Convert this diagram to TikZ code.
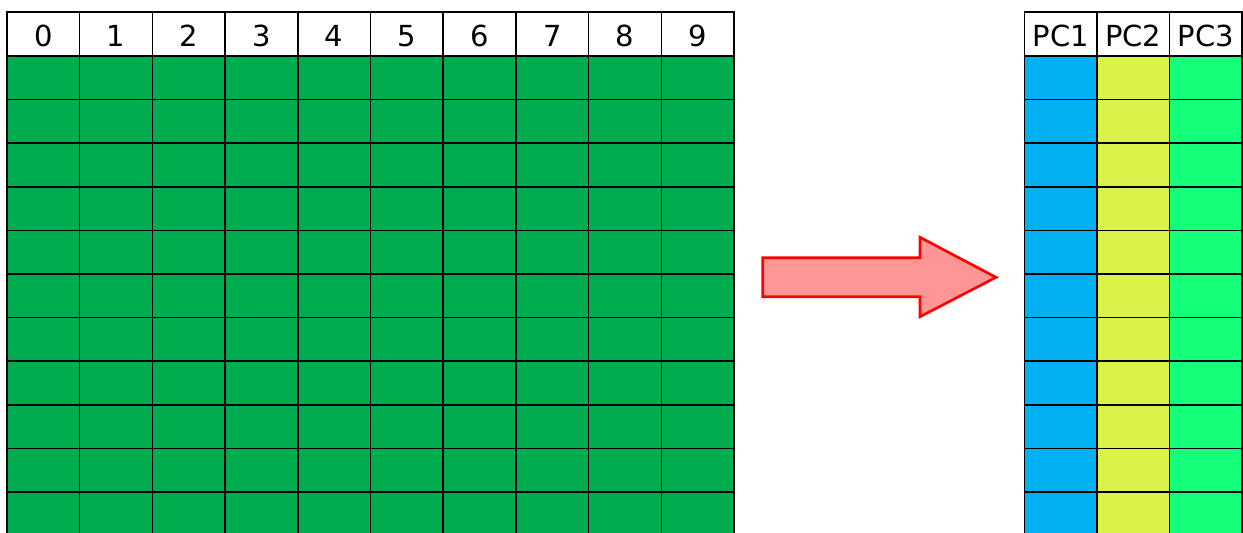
\documentclass[tikz,border=0pt]{standalone}
\usepackage{fontspec}
\setmainfont{DejaVu Sans}
\usetikzlibrary{positioning}

\definecolor{cellgreen}{HTML}{00AD4E}
\definecolor{pcblue}{HTML}{00B0F0}
\definecolor{pcyellow}{HTML}{DAF24A}
\definecolor{pcgreen}{HTML}{14FF7A}
\definecolor{arrowfill}{HTML}{FF9696}

\tikzset{
  hdr/.style={draw=black, fill=white, line width=0.9pt, inner sep=0pt,
    minimum width=1.454cm, minimum height=0.88cm,
    text height=14.3pt, text depth=0pt,
    font=\fontsize{16.5}{19}\selectfont},
  pchdr/.style={hdr, minimum width=1.45cm},
  cell/.style={draw=black, line width=0.9pt},
  bigarrow/.style={draw=red, fill=arrowfill, line width=1.5pt, line join=miter}
}

\begin{document}
\begin{tikzpicture}[x=0.02cm,y=-0.02cm]
  \useasboundingbox (0,0) rectangle (1243,532);
  \clip (0,0) rectangle (1243,532);
  % input table: ten columns
  \foreach \c in {0,...,9} {
    \foreach \r in {0,...,10}
      \draw[cell, fill=cellgreen] (7+72.7*\c,56+43.6*\r) rectangle +(72.7,43.6);
    \node[hdr] (h\c) at (7+72.7*\c+36.35,34) {\c};
  }
  % arrow
  \draw[bigarrow] (762.7,257.7) -- (920,257.7) -- (920,237.3) -- (996,277.3)
    -- (920,316.7) -- (920,296.7) -- (762.7,296.7) -- cycle;
  % output table: three principal components
  \foreach \c/\col in {1/pcblue,2/pcyellow,3/pcgreen} {
    \foreach \r in {0,...,10}
      \draw[cell, fill=\col] (1024.5+72.5*\c-72.5,56+43.6*\r) rectangle +(72.5,43.6);
    \node[pchdr] (pc\c) at (1024.5+72.5*\c-36.25,34) {PC\c};
  }
\end{tikzpicture}
\end{document}
